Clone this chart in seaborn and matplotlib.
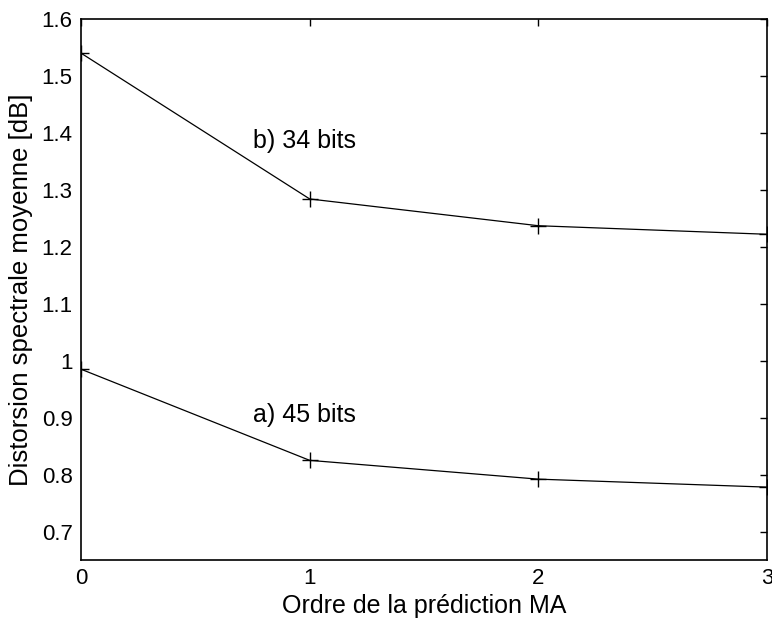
import matplotlib
matplotlib.use("Agg")
import matplotlib.pyplot as plt
import seaborn as sns
import pandas as pd

ordre = [0, 1, 2, 3]
dist_45 = [0.985, 0.825, 0.792, 0.778]
dist_34 = [1.540, 1.284, 1.237, 1.222]
yticks = [0.7, 0.8, 0.9, 1.0, 1.1, 1.2, 1.3, 1.4, 1.5, 1.6]
ytick_labels = ["0.7", "0.8", "0.9", "1", "1.1", "1.2", "1.3", "1.4", "1.5", "1.6"]

sns.set_style("white")
plt.rcParams["font.family"] = ["Liberation Sans", "DejaVu Sans"]
plt.rcParams["font.size"] = 16
plt.rcParams["text.color"] = "black"
plt.rcParams["axes.labelcolor"] = "black"

df = pd.DataFrame({
    "x": ordre * 2,
    "y": dist_45 + dist_34,
    "serie": ["a) 45 bits"] * 4 + ["b) 34 bits"] * 4,
})

fig = plt.figure(figsize=(7.72, 6.21), dpi=100)
ax = fig.add_axes([0.105, 0.0982, 0.8885, 0.8712])
sns.lineplot(data=df, x="x", y="y", units="serie", estimator=None,
             color="black", marker="+", markersize=11, markeredgewidth=1.0,
             markeredgecolor="black", markerfacecolor="black",
             linewidth=0.9, ax=ax, legend=False)

ax.set_xlim(0, 3)
ax.set_ylim(0.65, 1.6)
ax.set_xticks(ordre)
ax.set_xticklabels([str(v) for v in ordre])
ax.set_yticks(yticks)
ax.set_yticklabels(ytick_labels)
ax.tick_params(direction="in", length=5, width=1.0, top=True, right=True,
               labelsize=16, pad=6, color="black", labelcolor="black")
for s in ax.spines.values():
    s.set_visible(True)
    s.set_color("black")
    s.set_linewidth(1.2)

ax.text(0.75, 1.385, "b) 34 bits", ha="left", va="center", fontsize=18, color="black")
ax.text(0.75, 0.905, "a) 45 bits", ha="left", va="center", fontsize=18, color="black")

ax.set_xlabel("Ordre de la prédiction MA", fontsize=18, labelpad=3, color="black")
ax.set_ylabel("Distorsion spectrale moyenne [dB]", fontsize=18.5, labelpad=6, color="black")

fig.savefig("out.png", dpi=100)
